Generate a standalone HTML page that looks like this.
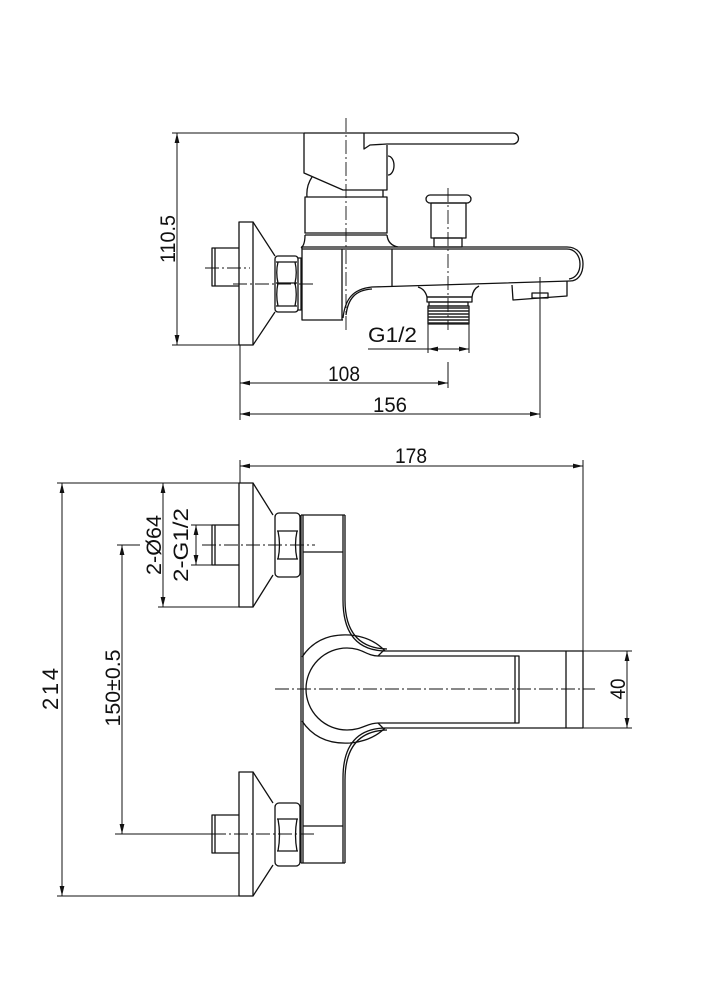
<!DOCTYPE html>
<html><head><meta charset="utf-8"><style>
html,body{margin:0;padding:0;background:#fff;}
svg{display:block;}
text{font-family:"Liberation Sans",sans-serif;fill:#111;}
</style></head><body>
<svg width="707" height="1000" viewBox="0 0 707 1000" xmlns="http://www.w3.org/2000/svg">
<defs>
<marker id="a" markerUnits="userSpaceOnUse" markerWidth="10" markerHeight="6" refX="10" refY="3" orient="auto-start-reverse">
<path d="M0,0.6 L10,3 L0,5.4 z" fill="#111"/>
</marker>
</defs>
<rect width="707" height="1000" fill="#fff"/>

<g fill="none" stroke="#111" stroke-width="1.3" stroke-linejoin="round">
<!-- ================= TOP VIEW ================= -->
<!-- flange -->
<rect x="239" y="222" width="14" height="123"/>
<path d="M253,222 L275,256 M253,345 L275,312"/>
<!-- stub -->
<path d="M239,248 L212,248 L212,286 L239,286 M215,248 L215,286"/>
<!-- nut -->
<rect x="275" y="256" width="23" height="56" rx="3"/>
<path d="M276,262 L297,262 M276,283 L297,283 M276,306 L297,306"/>
<path d="M278,262 Q275.5,272.5 278,283 M295,262 Q297.5,272.5 295,283 M278,283 Q275.5,294.5 278,306 M295,283 Q297.5,294.5 295,306"/>
<path d="M298,258 L301,258 L301,310 L298,310"/>
<!-- handle -->
<path d="M304,133 L304,173 L343,190 L387,190 L387,145"/>
<path d="M304,133 L513,133 A5.5,5.5 0 0 1 513,144 L387,144 L370,145 L364,149 L364,133"/>
<path d="M388,156 A6,9.5 0 0 1 388,175"/>
<!-- neck -->
<path d="M312,177 Q306,186 307,197 M383,190 L383,197"/>
<rect x="305" y="197" width="82" height="36"/>
<path d="M305,235 L387,235"/>
<path d="M305,235 Q305,245 301,248 M387,235 Q388,245 398,247"/>
<!-- body -->
<path d="M301,247 L567,247 M302,249 L567,249"/>
<path d="M302,247 L302,320 L343,320 M342,249 L342,320"/>
<path d="M343,318 C345,300 352,289 372,287 L570,281"/>
<path d="M346,315 C348,299 355,290 372,289"/>
<path d="M392,249 L392,287"/>
<path d="M567,247 C578,247 583,255 583,264 C583,274 578,281 570,281"/>
<path d="M567,249 C575,249 580,256 580,264 C580,272 576,278 569,279"/>
<!-- diverter -->
<rect x="426" y="195" width="45" height="8" rx="4"/>
<rect x="431" y="203" width="35" height="35"/>
<rect x="434" y="238" width="28" height="9"/>
<!-- outlet -->
<path d="M418,287 Q425,289 427,297 L472,297 Q473,289 479,286"/>
<rect x="427" y="297" width="45" height="5"/>
<rect x="429" y="302" width="39" height="4"/>
<rect x="428" y="306" width="41" height="18"/>
<!-- aerator -->
<path d="M512,285 L513,300 L567,296 L567,281"/>
<rect x="532" y="293" width="16" height="5"/>
</g>
<!-- threads -->
<g stroke="#222" stroke-width="1.4">
<path d="M428,308 L469,308 M428,311 L469,311 M428,314 L469,314 M428,317 L469,317 M428,320 L469,320 M428,323 L469,323"/>
</g>

<!-- centerlines top -->
<g fill="none" stroke="#111" stroke-width="0.9" stroke-dasharray="14 3 2 3">
<path d="M346,118 L346,330"/>
<path d="M448,188 L448,330"/>
<path d="M205,268 L250,268"/>
<path d="M233,284 L313,284"/>
</g>

<!-- dimensions top -->
<g fill="none" stroke="#111" stroke-width="1">
<path d="M172,133 L304,133 M172,345 L239,345"/>
<path d="M177,133 L177,345" marker-start="url(#a)" marker-end="url(#a)"/>
<path d="M240,345 L240,420"/>
<path d="M448,362 L448,388"/>
<path d="M540,277 L540,418"/>
<path d="M240,383 L448,383" marker-start="url(#a)" marker-end="url(#a)"/>
<path d="M240,414 L540,414" marker-start="url(#a)" marker-end="url(#a)"/>
<path d="M428,324 L428,353 M469,324 L469,353"/>
<path d="M368,349 L428,349"/>
<path d="M428,349 L469,349" marker-start="url(#a)" marker-end="url(#a)"/>
<path d="M240,460 L240,483 M583,460 L583,651"/>
<path d="M240,466 L583,466" marker-start="url(#a)" marker-end="url(#a)"/>
</g>

<!-- ================= BOTTOM VIEW ================= -->
<g fill="none" stroke="#111" stroke-width="1.3" stroke-linejoin="round">
<!-- upper flange -->
<rect x="239" y="483" width="14" height="124"/>
<path d="M253,483 L273,515 M253,607 L273,575"/>
<path d="M239,525 L212,525 L212,565 L239,565 M215,525 L215,565"/>
<rect x="275" y="513" width="25" height="64" rx="4"/>
<path d="M277,531 L298,531 M277,559 L298,559 M278,531 Q281,545 278,559 M297,531 Q294,545 297,559"/>
<!-- lower flange -->
<rect x="239" y="772" width="14" height="124"/>
<path d="M253,772 L273,803 M253,896 L273,865"/>
<path d="M239,815 L212,815 L212,853 L239,853 M215,815 L215,853"/>
<rect x="275" y="803" width="25" height="63" rx="4"/>
<path d="M277,819 L298,819 M277,851 L298,851 M278,819 Q281,835 278,851 M297,819 Q294,835 297,851"/>
<!-- body -->
<path d="M301,515 L301,863 M303,515 L303,863"/>
<path d="M301,515 L345,515 M343,515 L343,600 M345,515 L345,600"/>
<path d="M303,552 L343,552 M303,826 L343,826"/>
<path d="M301,863 L345,863 M343,778 L343,863 M345,780 L345,863"/>
<path d="M343,600 Q343,650 385,651 M345,600 Q345,648 387,649"/>
<path d="M385,728 Q343,729 343,778 M387,730 Q345,731 345,780"/>
<path d="M385,651 L583,651 M385,728 L583,728"/>
<path d="M583,651 L583,728 M566,651 L566,728"/>
<!-- handle outer -->
<path d="M302,657 Q318,633 350,635 Q372,637 385,651"/>
<path d="M302,721 Q318,745 350,743 Q372,741 385,728"/>
<!-- lever -->
<path d="M519,656 L378,656 C367,656 362,648 347,648 A41,41 0 0 0 347,730 C362,730 367,723 378,723 L519,723 Z"/>
<path d="M515,656 L515,723"/>
<path d="M378,656 L384,650 M378,723 L384,729"/>
</g>

<!-- centerlines bottom -->
<g fill="none" stroke="#111" stroke-width="0.9" stroke-dasharray="14 3 2 3">
<path d="M202,545 L315,545"/>
<path d="M275,689 L595,689"/>
<path d="M212,834 L315,834"/>
</g>

<!-- dimensions bottom -->
<g fill="none" stroke="#111" stroke-width="1">
<path d="M57,483 L239,483 M57,896 L239,896"/>
<path d="M62,483 L62,896" marker-start="url(#a)" marker-end="url(#a)"/>
<path d="M158,607 L239,607"/>
<path d="M163,483 L163,607" marker-start="url(#a)" marker-end="url(#a)"/>
<path d="M191,525 L212,525 M191,565 L212,565"/>
<path d="M196,525 L196,565" marker-start="url(#a)" marker-end="url(#a)"/>
<path d="M117,545 L140,545 M115,834 L212,834"/>
<path d="M122,545 L122,834" marker-start="url(#a)" marker-end="url(#a)"/>
<path d="M583,651 L632,651 M583,728 L632,728"/>
<path d="M627,651 L627,728" marker-start="url(#a)" marker-end="url(#a)"/>
</g>

<!-- TEXT -->
<g font-size="21">
<text transform="translate(175,239) rotate(-90)" text-anchor="middle" textLength="48" lengthAdjust="spacingAndGlyphs">110.5</text>
<text x="368" y="342" textLength="49" lengthAdjust="spacingAndGlyphs">G1/2</text>
<text x="328" y="381" textLength="32" lengthAdjust="spacingAndGlyphs">108</text>
<text x="373" y="412" textLength="34" lengthAdjust="spacingAndGlyphs">156</text>
<text x="395" y="463" textLength="32" lengthAdjust="spacingAndGlyphs">178</text>
<text transform="translate(161,545) rotate(-90)" text-anchor="middle" textLength="60" lengthAdjust="spacingAndGlyphs">2-Ø64</text>
<text transform="translate(188,545) rotate(-90)" text-anchor="middle" textLength="74" lengthAdjust="spacingAndGlyphs">2-G1/2</text>
<text transform="translate(120,688) rotate(-90)" text-anchor="middle" textLength="77" lengthAdjust="spacingAndGlyphs">150±0.5</text>
<text transform="translate(58,689) rotate(-90)" text-anchor="middle" font-size="22" textLength="42" lengthAdjust="spacing">214</text>
<text transform="translate(625,689) rotate(-90)" text-anchor="middle" textLength="21" lengthAdjust="spacingAndGlyphs">40</text>
</g>
</svg>
</body></html>
